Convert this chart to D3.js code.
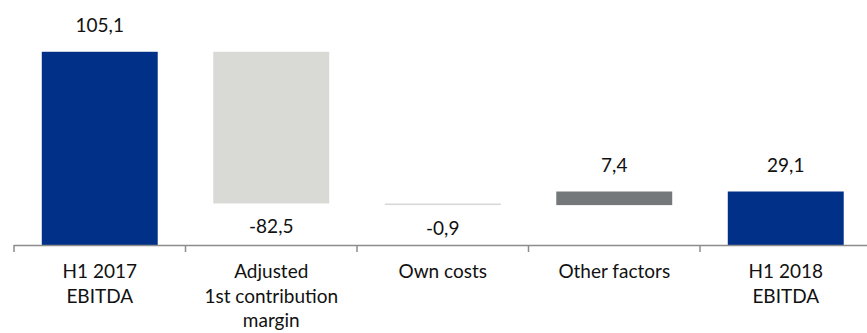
<!DOCTYPE html>
<html>
<head>
<meta charset="utf-8">
<script src="https://cdn.jsdelivr.net/npm/d3@7"></script>
<style>
  html, body { margin: 0; padding: 0; background: #fff; }
  svg { display: block; }
  text { font-family: Lato, "Open Sans", sans-serif; fill: #111; }
</style>
</head>
<body>
<svg id="chart" width="867" height="333"></svg>
<script>
// ---- data ----
const categories = ["H1 2017 EBITDA", "Adjusted 1st contribution margin", "Own costs", "Other factors", "H1 2018 EBITDA"];
const categoryLines = [["H1 2017", "EBITDA"], ["Adjusted", "1st contribution", "margin"], ["Own costs"], ["Other factors"], ["H1 2018", "EBITDA"]];
const values = [105.1, -82.5, -0.9, 7.4, 29.1];
const kinds = ["total", "delta", "delta", "delta", "total"];
const barColors = ["#003087", "#d9d9d5", "#d9d9d9", "#75787b", "#003087"];

// ---- build waterfall ----
let running = 0;
const bars = categories.map((c, i) => {
  let start, end;
  if (kinds[i] === "total") { start = 0; end = values[i]; running = values[i]; }
  else { start = running; end = running + values[i]; running = end; }
  return { cat: c, lines: categoryLines[i], value: values[i], start, end, color: barColors[i] };
});

const svg = d3.select("#chart");
const x = d3.scaleBand().domain(categories).range([14, 871.5]).paddingInner(0.324).paddingOuter(0.162);
const y = d3.scaleLinear().domain([0, 130]).range([245, 6]);

const locale = d3.formatLocale({ decimal: ",", thousands: ".", grouping: [3], currency: ["", ""], minus: "-" });
const fmt = locale.format(".1f");

// bars
svg.append("g").selectAll("rect").data(bars).join("rect")
  .attr("x", d => x(d.cat))
  .attr("width", x.bandwidth())
  .attr("y", d => y(Math.max(d.start, d.end)))
  .attr("height", d => Math.max(1.5, Math.abs(y(d.start) - y(d.end))))
  .attr("fill", d => d.color);

// value labels
svg.append("g").selectAll("text").data(bars).join("text")
  .attr("x", d => x(d.cat) + x.bandwidth() / 2)
  .attr("y", d => d.value >= 0 ? y(Math.max(d.start, d.end)) - 20 : y(Math.min(d.start, d.end)) + 30)
  .attr("text-anchor", "middle")
  .style("font-size", "19px")
  .text(d => fmt(d.value));

// axis line and ticks at band boundaries
const step = x.step();
const half = step * x.paddingInner() / 2;
const axisG = svg.append("g");
const boundaries = categories.map(c => x(c) - half).concat([x(categories[categories.length - 1]) + x.bandwidth() + half]);
axisG.append("line")
  .attr("x1", boundaries[0]).attr("x2", boundaries[boundaries.length - 1])
  .attr("y1", y(0) + 0.5).attr("y2", y(0) + 0.5)
  .attr("stroke", "#8c8c8c").attr("stroke-width", 1.5);
axisG.selectAll("line.tick").data(boundaries).join("line")
  .attr("class", "tick")
  .attr("x1", d => d).attr("x2", d => d)
  .attr("y1", y(0)).attr("y2", y(0) + 7)
  .attr("stroke", "#8c8c8c").attr("stroke-width", 1.5);

// category labels
const lab = svg.append("g").selectAll("text").data(bars).join("text")
  .attr("x", d => x(d.cat) + x.bandwidth() / 2)
  .attr("y", y(0) + 33)
  .attr("text-anchor", "middle")
  .style("font-size", "19px");
lab.selectAll("tspan").data(d => d.lines.map(l => ({ l, cx: x(d.cat) + x.bandwidth() / 2 }))).join("tspan")
  .attr("x", d => d.cx)
  .attr("dy", (d, i) => i === 0 ? 0 : 24.5)
  .text(d => d.l);
</script>
</body>
</html>
